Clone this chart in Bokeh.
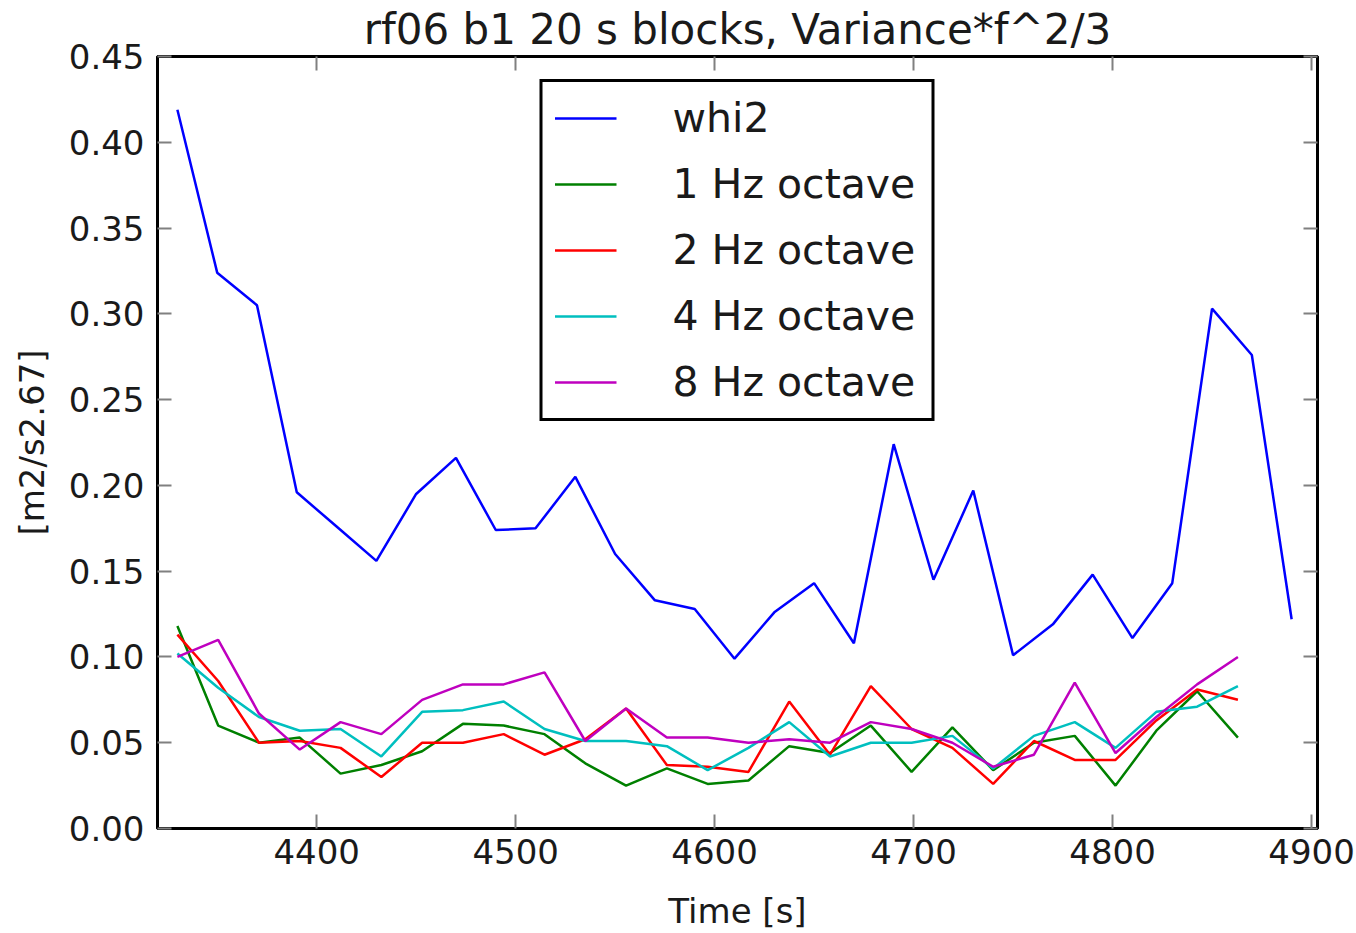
from bokeh.plotting import figure
from bokeh.models import (Range1d, FixedTicker, NumeralTickFormatter, LinearAxis,
                          Legend, LegendItem, Title)
from bokeh.embed import file_html
from bokeh.resources import INLINE

# ---- data ----
t_whi2 = [4330, 4350, 4370, 4390, 4410, 4430, 4450, 4470, 4490, 4510,
          4530, 4550, 4570, 4590, 4610, 4630, 4650, 4670, 4690, 4710,
          4730, 4750, 4770, 4790, 4810, 4830, 4850, 4870, 4890]
whi2 = [0.419, 0.324, 0.305, 0.196, 0.176, 0.156, 0.195, 0.216, 0.174, 0.175,
        0.205, 0.160, 0.133, 0.128, 0.099, 0.126, 0.143, 0.108, 0.224, 0.145,
        0.197, 0.101, 0.119, 0.148, 0.111, 0.143, 0.303, 0.276, 0.122]

t_oct = [4330.0, 4350.5, 4371.0, 4391.5, 4412.0, 4432.5, 4453.0, 4473.5, 4494.0,
         4514.5, 4535.0, 4555.5, 4576.0, 4596.5, 4617.0, 4637.5, 4658.0, 4678.5,
         4699.0, 4719.5, 4740.0, 4760.5, 4781.0, 4801.5, 4822.0, 4842.5, 4863.0]
oct1 = [0.118, 0.060, 0.050, 0.053, 0.032, 0.037, 0.045, 0.061, 0.060, 0.055,
        0.038, 0.025, 0.035, 0.026, 0.028, 0.048, 0.044, 0.060, 0.033, 0.059,
        0.034, 0.050, 0.054, 0.025, 0.057, 0.080, 0.053]
oct2 = [0.113, 0.086, 0.050, 0.051, 0.047, 0.030, 0.050, 0.050, 0.055, 0.043,
        0.052, 0.070, 0.037, 0.036, 0.033, 0.074, 0.043, 0.083, 0.058, 0.047,
        0.026, 0.051, 0.040, 0.040, 0.063, 0.081, 0.075]
oct4 = [0.102, 0.082, 0.065, 0.057, 0.058, 0.042, 0.068, 0.069, 0.074, 0.058,
        0.051, 0.051, 0.048, 0.034, 0.047, 0.062, 0.042, 0.050, 0.050, 0.054,
        0.035, 0.054, 0.062, 0.047, 0.068, 0.071, 0.083]
oct8 = [0.100, 0.110, 0.067, 0.046, 0.062, 0.055, 0.075, 0.084, 0.084, 0.091,
        0.051, 0.070, 0.053, 0.053, 0.050, 0.052, 0.050, 0.062, 0.058, 0.050,
        0.036, 0.043, 0.085, 0.044, 0.065, 0.084, 0.100]

labels = ["whi2", "1 Hz octave", "2 Hz octave", "4 Hz octave", "8 Hz octave"]
colors = ["#0000ff", "#008000", "#ff0000", "#00bfbf", "#bf00bf"]

x_ticks = [4400, 4500, 4600, 4700, 4800, 4900]
y_ticks = [0.0, 0.05, 0.10, 0.15, 0.20, 0.25, 0.30, 0.35, 0.40, 0.45]

FONT = "DejaVu Sans"

p = figure(width=1356, height=933, output_backend="svg", toolbar_location=None,
           x_range=Range1d(4320, 4903), y_range=Range1d(0, 0.45),
           min_border_left=157, min_border_right=39, min_border_top=0,
           min_border_bottom=103, background_fill_color="white",
           border_fill_color="white")

p.title = Title(text="rf06 b1 20 s blocks, Variance*f^2/3", align="center",
                text_font=FONT, text_font_size="42px", text_font_style="normal",
                text_color="#1a1a1a", standoff=5)
p.grid.visible = False
p.outline_line_color = "black"
p.outline_line_width = 3

renderers = []
renderers.append(p.line(t_whi2, whi2, color=colors[0], line_width=2.5))
for ys, c in zip([oct1, oct2, oct4, oct8], colors[1:]):
    renderers.append(p.line(t_oct, ys, color=c, line_width=2.5))


def style_axis(ax, ticks, show_labels=True):
    ax.ticker = FixedTicker(ticks=ticks)
    ax.axis_line_color = "black"
    ax.axis_line_width = 3
    ax.major_tick_in = 14
    ax.major_tick_out = 0
    ax.major_tick_line_color = "#808080"
    ax.major_tick_line_width = 2
    ax.minor_tick_line_color = None
    ax.major_label_text_font = FONT
    if show_labels:
        ax.major_label_text_font_size = "34px"
        ax.major_label_text_color = "#1a1a1a"
    else:
        ax.major_label_text_font_size = "1px"
        ax.major_label_text_color = None
        ax.major_label_standoff = 0


xa = p.xaxis[0]
style_axis(xa, x_ticks)
xa.major_label_standoff = 10
xa.axis_label = "Time [s]"
xa.axis_label_text_font = FONT
xa.axis_label_text_font_size = "34px"
xa.axis_label_text_font_style = "normal"
xa.axis_label_text_color = "#1a1a1a"
xa.axis_label_standoff = 24

ya = p.yaxis[0]
style_axis(ya, y_ticks)
ya.formatter = NumeralTickFormatter(format="0.00")
ya.major_label_standoff = 13
ya.axis_label = "[m2/s2.67]"
ya.axis_label_text_font = FONT
ya.axis_label_text_font_size = "34px"
ya.axis_label_text_font_style = "normal"
ya.axis_label_text_color = "#1a1a1a"
ya.axis_label_standoff = 14

ra = LinearAxis()
style_axis(ra, y_ticks, show_labels=False)
p.add_layout(ra, "right")
ta = LinearAxis()
style_axis(ta, x_ticks, show_labels=False)
p.add_layout(ta, "above")

legend = Legend(items=[LegendItem(label=l, renderers=[r]) for l, r in zip(labels, renderers)],
                location="top_center", margin=23, padding=12,
                glyph_width=62, glyph_height=40, label_height=40, label_width=247,
                label_standoff=56, spacing=18,
                label_text_font=FONT, label_text_font_size="41px",
                label_text_line_height=1.0,
                label_text_color="#1a1a1a",
                border_line_color="black", border_line_width=3, border_line_alpha=1.0,
                background_fill_color="white", background_fill_alpha=1.0)
p.add_layout(legend, "center")

open("out.html", "w").write(file_html(p, INLINE))
